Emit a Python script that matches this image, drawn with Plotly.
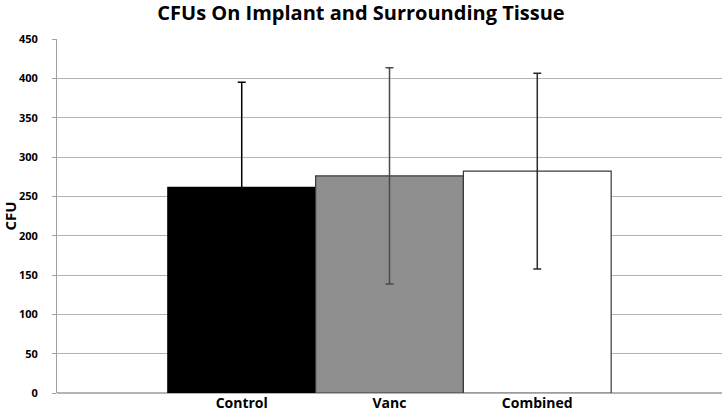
import plotly.graph_objects as go

categories = ["Control", "Vanc", "Combined"]
cfu_mean = [261.5, 276, 282]
cfu_err = [133.5, 137.5, 124.5]
fill_colors = ["#000000", "#8f8f8f", "#ffffff"]
line_colors = ["#000000", "#3a3a3a", "#3a3a3a"]
err_colors = ["#000000", "#4a4a4a", "#2a2a2a"]
y_ticks = [0, 50, 100, 150, 200, 250, 300, 350, 400, 450]

fig = go.Figure()
for i, cat in enumerate(categories):
    fig.add_trace(go.Bar(
        x=[i], y=[cfu_mean[i]], width=1.0,
        marker=dict(color=fill_colors[i], line=dict(color=line_colors[i], width=1.2)),
        error_y=dict(type="data", array=[cfu_err[i]], visible=True,
                     color=err_colors[i], thickness=1.5, width=4),
        showlegend=False, name=cat,
    ))

font_family = "Open Sans, Noto Sans, sans-serif"
fig.update_layout(
    width=722, height=413,
    margin=dict(l=57, r=0, t=39, b=20, autoexpand=False),
    paper_bgcolor="white", plot_bgcolor="white",
    barmode="overlay",
    title=dict(text="<b>CFUs On Implant and Surrounding Tissue</b>", x=0.5, xanchor="center",
               y=0.985, yanchor="top", font=dict(family=font_family, size=20, color="#000000")),
    xaxis=dict(range=[-1.25, 3.25], tickmode="array", tickvals=list(range(len(categories))),
               ticktext=["<b>%s</b>" % c for c in categories], showgrid=False, zeroline=False,
               showline=False, ticks="", automargin=False, ticklabelstandoff=0,
               tickfont=dict(family=font_family, size=14, color="#000000")),
    yaxis=dict(range=[0, 450], tickmode="array", tickvals=y_ticks,
               ticktext=["<b>%d</b>" % v for v in y_ticks], automargin=False,
               showgrid=True, gridcolor="#b4b4b4", gridwidth=1, zeroline=True, zerolinecolor="#b4b4b4",
               showline=True, linecolor="#a0a0a0", linewidth=1, ticks="outside", ticklen=4,
               tickcolor="#a0a0a0", ticklabelstandoff=12,
               tickfont=dict(family=font_family, size=11, color="#000000"),
               title=dict(text="<b>CFU</b>", standoff=18, font=dict(family=font_family, size=15, color="#000000"))),
)
fig.write_html("out.html", config={"displayModeBar": False},
               post_script="document.body.style.margin='0';document.body.style.overflow='hidden';")
